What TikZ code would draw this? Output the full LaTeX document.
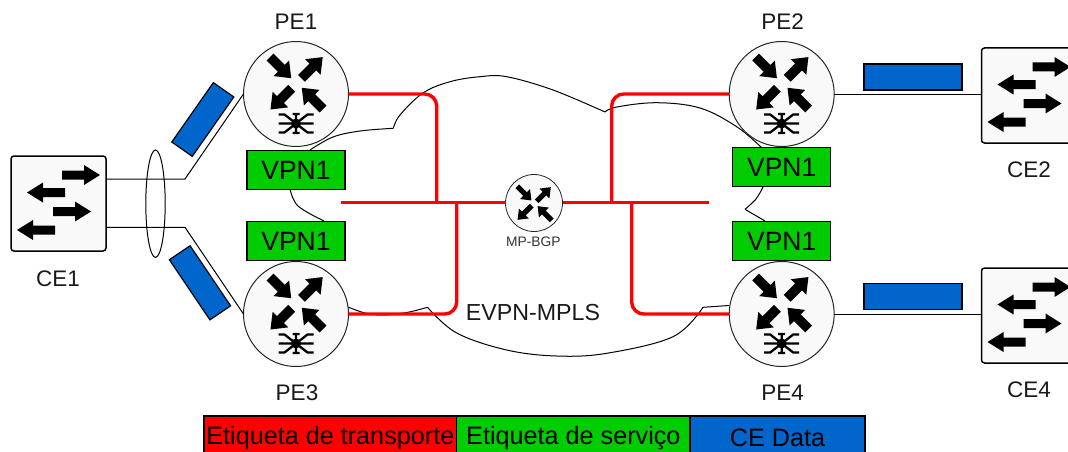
\documentclass[tikz,border=0pt]{standalone}
\usepackage{fontspec}
\usetikzlibrary{shapes.geometric}
\setmainfont{Liberation Sans}
\definecolor{cered}{HTML}{FF0000}
\definecolor{cegreen}{HTML}{00CC00}
\definecolor{ceblue}{HTML}{0066CC}
\definecolor{devfill}{HTML}{F9F9F9}
\newcommand{\glyphat}[7]{% x y angle length tailhw headhw headlen
  \fill[black,shift={(#1,#2)},rotate=#3] (0,-#5) -- ({#4-#7},-#5) -- ({#4-#7},-#6) -- (#4,0) -- ({#4-#7},#6) -- ({#4-#7},#5) -- (0,#5) -- cycle;}
\tikzset{
  x=1pt,y=-1pt,
  every node/.style={inner sep=0pt,outer sep=0pt},
  routernode/.style={circle,draw=black!85,line width=1pt,fill=devfill,minimum size=105pt},
  hubnode/.style={circle,draw=black!85,line width=.8pt,fill=devfill,minimum size=57pt},
  switchnode/.style={rectangle,rounded corners=3pt,draw=black,line width=1.5pt,fill=devfill,minimum width=95pt,minimum height=95pt},
  vpnbox/.style={rectangle,draw=black,line width=1.2pt,fill=cegreen,minimum width=98pt,minimum height=39pt,font=\fontsize{26.5}{30}\selectfont},
  databox/.style={rectangle,draw=black,line width=1.2pt,fill=ceblue,minimum width=98pt,minimum height=26pt},
  legendbox/.style={rectangle,draw=black,line width=1.2pt,minimum height=44pt,font=\fontsize{25.2}{28}\selectfont},
  devlabel/.style={font=\fontsize{22.5}{25}\selectfont,text=black!90},
  wire/.style={draw=black,line width=1pt},
  cloudline/.style={draw=black,line width=1pt},
  transport/.style={draw=cered,line width=3.4pt,rounded corners=12pt},
  routerarrows/.pic={
    \glyphat{-26}{-37}{-45}{30}{4.8}{11}{14}
    \glyphat{5.5}{-15.7}{45}{30}{4.8}{11}{14}
    \glyphat{-4.3}{-5.7}{225}{30}{4.8}{11}{14}
    \glyphat{27}{15}{135}{30}{4.8}{11}{14}
    \fill[black] (0,29.5) circle (5);
    \draw[black,line width=2.3pt]
      (-17.5,29.5) -- (17.5,29.5)
      (-17.5,20.5) -- (-11.5,20.5) -- (11.5,38.5) -- (17.5,38.5)
      (17.5,20.5) -- (11.5,20.5) -- (-11.5,38.5) -- (-17.5,38.5)
      (0,20) -- (0,39)
      (-3.5,20) -- (3.5,20)
      (-3.5,39) -- (3.5,39);
  },
  hubarrows/.pic={
    \glyphat{-16.7}{-16.7}{-45}{20}{2.6}{7}{9}
    \glyphat{2.7}{-1.7}{45}{20}{2.6}{7}{9}
    \glyphat{-2.3}{2.7}{225}{20}{2.6}{7}{9}
    \glyphat{17.7}{17.3}{135}{20}{2.6}{7}{9}
  },
  switcharrows/.pic={
    \glyphat{3.5}{-28.5}{0}{38}{4.5}{10}{16}
    \glyphat{6.5}{-11}{180}{38}{4.5}{10}{16}
    \glyphat{-5.5}{8}{0}{38}{4.5}{10}{16}
    \glyphat{-3.5}{26.5}{180}{38}{4.5}{10}{16}
  }
}
\begin{document}
\begin{tikzpicture}
\useasboundingbox (0,0) rectangle (1068,452);
\clip (0,0) rectangle (1068,452);

% EVPN-MPLS cloud outline
\draw[cloudline] plot[smooth,tension=.6] coordinates {(310,150) (333,137) (360,131) (393.3,128.3)};
\draw[cloudline] plot[smooth,tension=.6] coordinates {(393.3,128.3) (400,115) (423,93) (450,81.7) (480,76.7) (506.7,76.7) (553,90) (605,112)};
\draw[cloudline] plot[smooth,tension=.6] coordinates {(605,112) (616.7,107) (656.7,102.7) (700,108) (736.7,126.7) (762,148)};
\draw[cloudline] plot[smooth,tension=.6] coordinates {(290,189) (298,206) (324,221)};
\draw[cloudline] plot[smooth,tension=.6] coordinates {(763,187) (756,199) (745,209.3)};
\draw[cloudline] (745,209.3) -- (765,221);
\draw[cloudline] (729,305.5) -- (703,307.3);
\draw[cloudline] plot[smooth,tension=.6] coordinates {(703,307.3) (673,336.7) (606.7,353.3) (556.7,356) (506.7,350) (456.7,333) (427.5,307.3)};
\draw[cloudline] plot[smooth,tension=.6] coordinates {(427.5,307.3) (406.7,312.5) (383,315) (365,313) (348,307)};

% Devices
\node[routernode] (pe1) at (296,94) {};
\node[routernode] (pe2) at (781.7,94) {};
\node[routernode] (pe3) at (296,314) {};
\node[routernode] (pe4) at (781.7,314) {};
\pic at (pe1) {routerarrows};
\pic at (pe2) {routerarrows};
\pic at (pe3) {routerarrows};
\pic at (pe4) {routerarrows};
\node[hubnode] (mp) at (534,203) {};
\pic at (mp) {hubarrows};
\node[switchnode] (ce1) at (58.5,203.5) {};
\node[switchnode] (ce2) at (1029,95.5) {};
\node[switchnode] (ce4) at (1029,315.5) {};
\pic at (ce1) {switcharrows};
\pic at (ce2) {switcharrows};
\pic at (ce4) {switcharrows};

% Service labels
\node[vpnbox] (v1) at (296,170) {VPN1};
\node[vpnbox] (v3) at (296,241.2) {VPN1};
\node[vpnbox] (v2) at (781.7,167.2) {VPN1};
\node[vpnbox] (v4) at (781.7,241.2) {VPN1};

% CE data blocks
\node[databox,minimum width=72.5pt,minimum height=25pt,rotate=55] (d1) at (202.8,119.5) {};
\node[databox,minimum width=72.5pt,minimum height=25pt,rotate=-56] (d3) at (200,282.8) {};
\node[databox] (d2) at (913,77) {};
\node[databox] (d4) at (913,296.3) {};

% Access links
\coordinate (ce1up) at (106,179);
\coordinate (ce1dn) at (106,227.3);
\coordinate (bendup) at (185,179);
\coordinate (benddn) at (185,227.3);
\draw[wire] (ce1up) -- (bendup) -- (pe1.west);
\draw[wire] (ce1dn) -- (benddn) -- (pe3.west);
\draw[wire] (pe2.east) -- (pe2.east -| ce2.west);
\draw[wire] (pe4.east) -- (pe4.east -| ce4.west);
\node[draw=black,line width=1pt,ellipse,minimum width=19.4pt,minimum height=107.4pt] (lag) at (155.5,203.7) {};

% Transport lines
\coordinate (busl) at (341,202.3);
\coordinate (busr) at (709,202.3);
\coordinate (ja) at (436.7,202.3);
\coordinate (jb) at (456.7,202.3);
\coordinate (jc) at (611.7,202.3);
\coordinate (jd) at (631.7,202.3);
\draw[transport] (pe1.east) -| (ja);
\draw[transport] (pe3.east) -| (jb);
\draw[transport] (pe2.west) -| (jc);
\draw[transport] (pe4.west) -| (jd);
\draw[transport] (busl) -- (mp.west |- busl);
\draw[transport] (mp.east |- busr) -- (busr);

% Labels
\node[devlabel] (lpe1) at (296,22) {PE1};
\node[devlabel] (lpe2) at (782.7,22) {PE2};
\node[devlabel] (lpe3) at (297,393) {PE3};
\node[devlabel] (lpe4) at (782.7,393) {PE4};
\node[devlabel] (lce1) at (58,279) {CE1};
\node[devlabel] (lce2) at (1029,170) {CE2};
\node[devlabel] (lce4) at (1029,390) {CE4};
\node[font=\fontsize{13.8}{15}\selectfont,text=black!80] (lmp) at (533.3,241.7) {MP-BGP};
\node[font=\fontsize{23.2}{26}\selectfont,text=black!90] (levpn) at (533,313) {EVPN-MPLS};

% Legend
\node[legendbox,fill=cered,minimum width=252.7pt] (k1) at (330.35,438) {Etiqueta de transporte};
\node[legendbox,fill=cegreen,minimum width=233.3pt] (k2) at (573.35,438) {Etiqueta de serviço};
\node[legendbox,fill=ceblue,minimum width=175pt] (k3) at (777.5,438) {CE Data};
\end{tikzpicture}
\end{document}
